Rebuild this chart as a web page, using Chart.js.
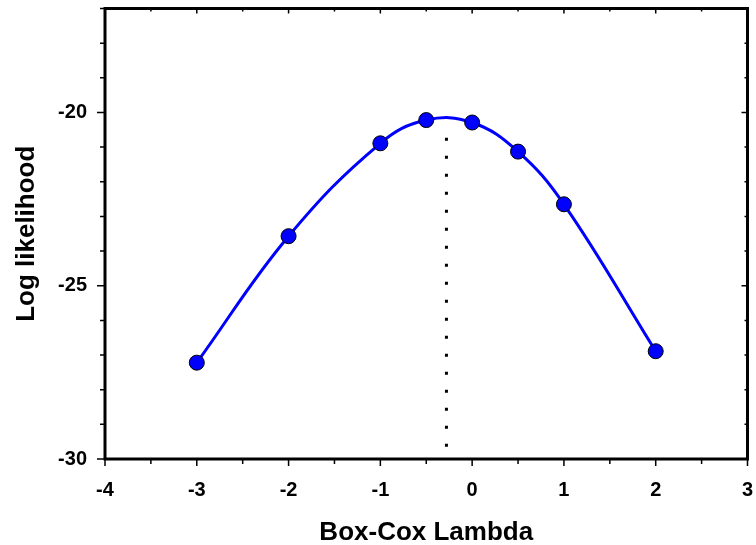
<!DOCTYPE html>
<html>
<head>
<meta charset="utf-8">
<script src="https://cdn.jsdelivr.net/npm/chart.js@4"></script>
<style>
  html, body { margin: 0; padding: 0; background: #fff; }
  #wrap { width: 756px; height: 545px; }
</style>
</head>
<body>
<div id="wrap"><canvas id="boxcox"></canvas></div>
<script>
// Box-Cox profile log likelihood
const lambdas = [-3, -2, -1, -0.5, 0, 0.5, 1, 2];
const logLik = [-27.22, -23.57, -20.89, -20.22, -20.29, -21.13, -22.65, -26.89];

// dotted marker at the lambda of max likelihood
const bestLambda = -0.28;
const markerY = [-29.65, -20.34];

const xMajor = [-4, -3, -2, -1, 0, 1, 2, 3];
const xMinor = [-3.5, -2.5, -1.5, -0.5, 0.5, 1.5, 2.5];
const yMajor = [-30, -25, -20];
const yMinor = [-29, -28, -27, -26, -24, -23, -22, -21, -19, -18, -17];

const boldFont = 'Arial, "Liberation Sans", sans-serif';

const frameTicks = {
    id: 'frameTicks',
    afterDraw(chart) {
        const ctx = chart.ctx;
        const a = chart.chartArea;
        const xs = chart.scales.x, ys = chart.scales.y;
        ctx.save();
        ctx.strokeStyle = '#000';
        ctx.lineWidth = 1.5;
        ctx.beginPath();
        const xt = (v, len) => {
            const px = xs.getPixelForValue(v);
            ctx.moveTo(px, a.bottom); ctx.lineTo(px, a.bottom + len);
            ctx.moveTo(px, a.top); ctx.lineTo(px, a.top + len - 2);
        };
        const yt = (v, len) => {
            const py = ys.getPixelForValue(v);
            ctx.moveTo(a.left, py); ctx.lineTo(a.left - len, py);
            ctx.moveTo(a.right, py); ctx.lineTo(a.right - len + 2, py);
        };
        xMajor.forEach(v => xt(v, 7));
        xMinor.forEach(v => xt(v, 5));
        yMajor.forEach(v => yt(v, 8));
        yMinor.forEach(v => yt(v, 5));
        ctx.stroke();
        ctx.lineWidth = 3;
        ctx.strokeRect(a.left, a.top, a.right - a.left, a.bottom - a.top);
        ctx.restore();
    }
};

new Chart(document.getElementById('boxcox'), {
    type: 'line',
    data: {
        datasets: [{
            data: lambdas.map((x, i) => ({x: x, y: logLik[i]})),
            borderColor: '#0000ff',
            borderWidth: 3,
            backgroundColor: '#0000ff',
            pointBorderColor: '#000',
            pointBorderWidth: 1,
            pointRadius: 7.5,
            tension: 0.4,
            fill: false
        }, {
            data: markerY.map(y => ({x: bestLambda, y: y})),
            borderColor: '#000',
            borderWidth: 3,
            borderDash: [3, 15],
            pointRadius: 0,
            fill: false
        }]
    },
    options: {
        responsive: true,
        maintainAspectRatio: false,
        animation: false,
        layout: {padding: {left: 0, right: 7, top: 6, bottom: 0}},
        plugins: {legend: {display: false}, tooltip: {enabled: false}},
        scales: {
            x: {
                type: 'linear',
                min: -4,
                max: 3,
                afterFit: s => {
                    s.height = 86;
                    s.paddingLeft = 0;
                    s.paddingRight = 0;
                },
                grid: {display: false, drawTicks: false},
                border: {display: false},
                ticks: {
                    stepSize: 1,
                    color: '#000',
                    padding: 19,
                    font: {family: boldFont, size: 20, weight: 'bold'}
                },
                title: {
                    display: true,
                    text: 'Box-Cox Lambda',
                    color: '#000',
                    padding: {top: 0, bottom: -3},
                    font: {family: boldFont, size: 26, weight: 'bold'}
                }
            },
            y: {
                min: -30,
                max: -17,
                afterFit: s => {
                    s.width = 105;
                    s.paddingTop = 0;
                    s.paddingBottom = 0;
                },
                grid: {display: false, drawTicks: false},
                border: {display: false},
                ticks: {
                    stepSize: 1,
                    color: '#000',
                    padding: 18,
                    font: {family: boldFont, size: 20, weight: 'bold'},
                    callback: v => (yMajor.includes(v) ? String(v) : '')
                },
                title: {
                    display: true,
                    text: 'Log likelihood',
                    color: '#000',
                    padding: 11,
                    font: {family: boldFont, size: 26, weight: 'bold'}
                }
            }
        }
    },
    plugins: [frameTicks]
});
</script>
</body>
</html>
